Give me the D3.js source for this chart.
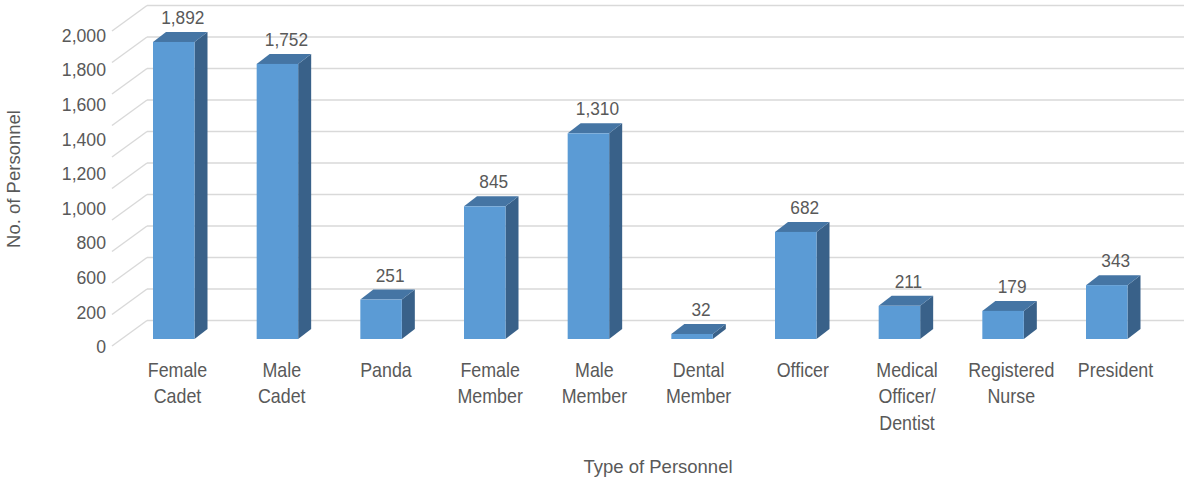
<!DOCTYPE html>
<html>
<head>
<meta charset="utf-8">
<script src="https://cdn.jsdelivr.net/npm/d3@7"></script>
<style>
  html, body { margin: 0; padding: 0; background: #ffffff; }
  svg { display: block; }
  text { font-family: "Liberation Sans", Arial, sans-serif; fill: #595959; }
</style>
</head>
<body>
<script>
// ---------- data ----------
const categories = ["Female Cadet", "Male Cadet", "Panda", "Female Member", "Male Member",
  "Dental Member", "Officer", "Medical Officer/ Dentist", "Registered Nurse", "President"];
const values = [1892, 1752, 251, 845, 1310, 32, 682, 211, 179, 343];
const tickLabels = ["0", "200", "600", "800", "1,000", "1,200", "1,400", "1,600", "1,800", "2,000"];
const gridValues = [0, 200, 400, 600, 800, 1000, 1200, 1400, 1600, 1800, 2000];
const yTitle = "No. of Personnel";
const xTitle = "Type of Personnel";

// ---------- layout ----------
const W = 1184, H = 481;
const svg = d3.select("body").append("svg").attr("width", W).attr("height", H);
svg.append("rect").attr("width", W).attr("height", H).attr("fill", "#ffffff");

const x = d3.scalePoint().domain(categories).range([173.75, 1106.75]);
const xLab = d3.scalePoint().domain(categories).range([177.5, 1115.5]);
const yFront = d3.scaleLinear().domain([0, 2000]).range([339, 25]);
const yBack = d3.scaleLinear().domain([0, 2000]).range([320.5, 5.5]);
const yTick = d3.scalePoint().domain(tickLabels).range([353.3, 41.7]);

const barW = 41.5, dX = 13, dY = -10;
const wallX = 147, frontX = 112, diagDy = 25.5;

// ---------- gridlines (back wall) + side diagonals ----------
const grid = svg.append("g");
grid.selectAll("line.h").data(gridValues).join("line")
  .attr("class", "h")
  .attr("x1", wallX).attr("x2", W)
  .attr("y1", d => yBack(d)).attr("y2", d => yBack(d))
  .attr("stroke", "#d9d9d9").attr("stroke-width", 1.4);
grid.selectAll("line.d").data(gridValues).join("line")
  .attr("class", "d")
  .attr("x1", frontX).attr("x2", wallX)
  .attr("y1", d => yBack(d) + diagDy).attr("y2", d => yBack(d))
  .attr("stroke", "#d9d9d9").attr("stroke-width", 1.4);

// ---------- bars ----------
const data = categories.map((c, i) => ({ c, v: values[i] }));
const bars = svg.append("g").selectAll("g").data(data).join("g");
bars.each(function (d) {
  const g = d3.select(this);
  const x0 = x(d.c) - barW / 2, x1 = x0 + barW;
  const yt = yFront(d.v), yb = yFront(0);
  g.append("polygon")
    .attr("points", [[x1, yt], [x1 + dX, yt + dY], [x1 + dX, yb + dY], [x1, yb]].map(p => p.join(",")).join(" "))
    .attr("fill", "#396189");
  g.append("polygon")
    .attr("points", [[x0, yt], [x1, yt], [x1 + dX, yt + dY], [x0 + dX, yt + dY]].map(p => p.join(",")).join(" "))
    .attr("fill", "#4575a4");
  g.append("rect")
    .attr("x", x0).attr("y", yt).attr("width", barW).attr("height", yb - yt)
    .attr("fill", "#5b9bd5");
});

// ---------- value labels ----------
const fmt = d3.format(",");
svg.append("g").selectAll("text").data(data).join("text")
  .attr("transform", d => `translate(${x(d.c) + 9},${yFront(d.v) - 18}) scale(0.96,1)`)
  .attr("text-anchor", "middle")
  .attr("font-size", 18)
  .text(d => fmt(d.v));

// ---------- y tick labels ----------
svg.append("g").selectAll("text").data(tickLabels).join("text")
  .attr("transform", d => `translate(106,${yTick(d)}) scale(0.93,1)`)
  .attr("text-anchor", "end")
  .attr("font-size", 19)
  .text(d => d);

// ---------- category labels ----------
const cat = svg.append("g").selectAll("text").data(categories).join("text")
  .attr("transform", d => `translate(${xLab(d)},376.7) scale(0.85,1)`)
  .attr("text-anchor", "middle")
  .attr("font-size", 21);
cat.each(function (d) {
  const t = d3.select(this);
  d.split(" ").forEach((w, i) => {
    t.append("tspan").attr("x", 0).attr("dy", i === 0 ? 0 : 26.7).text(w);
  });
});

// ---------- axis titles ----------
svg.append("text")
  .attr("transform", "translate(19.5,179) rotate(-90)")
  .attr("text-anchor", "middle")
  .attr("font-size", 18.5)
  .text(yTitle);
svg.append("text")
  .attr("transform", "translate(658,473)")
  .attr("text-anchor", "middle")
  .attr("font-size", 18.5)
  .text(xTitle);
</script>
</body>
</html>
